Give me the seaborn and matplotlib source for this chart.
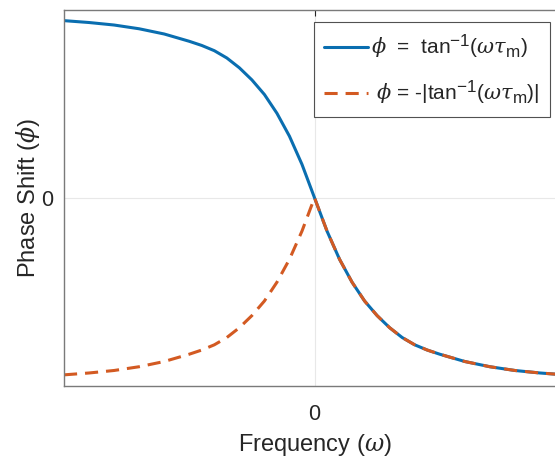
import numpy as np
import pandas as pd
import matplotlib
matplotlib.use("Agg")
import matplotlib.pyplot as plt
import matplotlib._mathtext as mt
import seaborn as sns

# frequency (axis spans -10..10) and phase in degrees
omega = [-10, -9, -8, -7, -6, -5, -4.5, -4, -3.5, -3, -2.5, -2, -1.5, -1,
         -0.5, 0,
         0.5, 1, 1.5, 2, 2.5, 3, 3.5, 4, 4.5, 5, 6, 7, 8, 9, 10]
phi_solid = [84.9, 84.0, 82.8, 81.0, 78.5, 75.0, 73.0, 70.5, 67.0, 62.3, 56.5,
             49.5, 40.5, 29.5, 16.0, 0.0,
             -16.0, -29.5, -40.5, -49.5, -56.5, -62.3, -67.0, -70.5, -73.0,
             -75.0, -78.5, -81.0, -82.8, -84.0, -84.9]
phi_dashed = [-84.9, -84.0, -82.8, -81.0, -78.5, -75.0, -73.0, -70.5, -67.0,
              -62.3, -56.5, -49.5, -40.5, -29.5, -16.0, 0.0,
              -16.0, -29.5, -40.5, -49.5, -56.5, -62.3, -67.0, -70.5, -73.0,
              -75.0, -78.5, -81.0, -82.8, -84.0, -84.9]

label_solid = r'$\phi$  =  tan$^{\mathregular{-1}}$($\omega\tau_{\mathregular{m}}$)'
label_dashed = r' $\phi$ = -|tan$^{\mathregular{-1}}$($\omega\tau_{\mathregular{m}}$)|'

sns.set_style("white")
plt.rcParams['font.family'] = ['Liberation Sans', 'DejaVu Sans']
plt.rcParams['mathtext.fontset'] = 'custom'
plt.rcParams['mathtext.rm'] = 'Liberation Sans'
plt.rcParams['mathtext.it'] = 'DejaVu Serif:italic'
# MATLAB-style tex draws super/subscripts larger
mt.SHRINK_FACTOR = 0.82

df = pd.DataFrame({'omega': omega, 'solid': phi_solid, 'dashed': phi_dashed})

fig = plt.figure(figsize=(5.55, 4.57), dpi=100)
W, H = 555, 457
ax = fig.add_axes([64 / W, 1 - 385.5 / H, (565 - 64) / W, (385.5 - 10) / H])

sns.lineplot(data=df, x='omega', y='solid', ax=ax, color='#0a6eb0',
             linewidth=2.2, label=label_solid, sort=False)
sns.lineplot(data=df, x='omega', y='dashed', ax=ax, color='#d35a22',
             linewidth=2.2, linestyle=(0, (4.3, 2.6)), label=label_dashed, sort=False)

ax.set_xlim(-10, 10)
ax.set_ylim(-90, 90)
ax.set_xticks([0])
ax.set_yticks([0])
ax.set_xticklabels(['0'])
ax.set_yticklabels(['0'])
ax.grid(True, color='#e8e8e8', linewidth=0.8)
ax.set_axisbelow(True)

for s in ax.spines.values():
    s.set_color('#7a7a7a')
    s.set_linewidth(1.0)
ax.tick_params(direction='in', length=4, width=0.8, color='#262626',
               labelsize=15.5, labelcolor='#262626', top=True, right=True)
ax.tick_params(axis='x', pad=13)
ax.tick_params(axis='y', pad=8)

ax.set_xlabel(r'Frequency ($\omega$)', fontsize=17, color='#262626', labelpad=5)
ax.set_ylabel(r'Phase Shift ($\phi$)', fontsize=17, color='#262626', labelpad=-1)

leg = ax.legend(loc='upper right', bbox_to_anchor=(550 / W, 1 - 22 / H),
                bbox_transform=fig.transFigure, borderaxespad=0, fontsize=15,
                frameon=True, fancybox=False, edgecolor='#262626',
                handlelength=2.1, handletextpad=0.15, labelspacing=0.85,
                borderpad=0.5)
leg.get_frame().set_linewidth(0.8)

fig.savefig('out.png', dpi=100)
